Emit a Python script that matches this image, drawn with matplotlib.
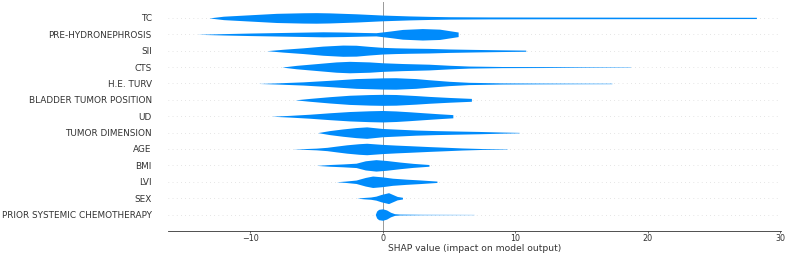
import numpy as np
import matplotlib.pyplot as plt

# feature names, top to bottom
features = ["TC", "PRE-HYDRONEPHROSIS", "SII", "CTS", "H.E. TURV",
            "BLADDER TUMOR POSITION", "UD", "TUMOR DIMENSION", "AGE",
            "BMI", "LVI", "SEX", "PRIOR SYSTEMIC CHEMOTHERAPY"]

# violin outlines: SHAP value and relative density
tc_x = [-13.1, -12, -10, -8, -6, -5, -4, -2, 0, 2, 3.5, 5, 8, 12, 20, 28.2, 28.2]
tc_d = [0, 0.3, 0.55, 0.8, 0.9, 0.92, 0.88, 0.72, 0.5, 0.35, 0.27, 0.21, 0.17, 0.15, 0.13, 0.11, 0]
pre_x = [-14.0, -12, -10, -8, -6, -4.5, -3, -1.5, -0.5, 0.5, 1.5, 3, 4.3, 5.0, 5.7, 5.7]
pre_d = [0, 0.12, 0.22, 0.3, 0.38, 0.44, 0.4, 0.32, 0.28, 0.55, 0.85, 1.0, 0.9, 0.65, 0.4, 0]
sii_x = [-8.75, -7.5, -6, -4.5, -3, -2, -1, 0, 1, 2, 3.5, 5, 7, 9, 10.8, 10.8]
sii_d = [0, 0.25, 0.5, 0.8, 0.98, 0.95, 0.75, 0.58, 0.5, 0.45, 0.4, 0.3, 0.22, 0.15, 0.1, 0]
cts_x = [-7.6, -6.5, -5, -3.5, -2.5, -1, 0, 1.5, 3.5, 5, 6.5, 9, 12, 15, 18.7, 18.7]
cts_d = [0, 0.3, 0.6, 0.9, 1.0, 0.9, 0.75, 0.62, 0.5, 0.32, 0.18, 0.1, 0.08, 0.05, 0.03, 0]
he_x = [-9.4, -8, -6, -4, -2, 0, 1, 2.5, 3.5, 5, 6.5, 9, 12, 15, 17.3, 17.3]
he_d = [0, 0.1, 0.28, 0.55, 0.85, 0.98, 1.0, 0.85, 0.65, 0.38, 0.2, 0.1, 0.07, 0.05, 0.04, 0]
btp_x = [-6.6, -5.5, -4, -2.5, -1, 0, 1, 2.5, 3.5, 5, 6.7, 6.7]
btp_d = [0, 0.25, 0.55, 0.8, 0.92, 0.96, 0.93, 0.75, 0.6, 0.42, 0.25, 0]
ud_x = [-8.4, -7, -5.5, -4, -2.5, -1, 0, 1, 2, 3, 4.3, 5.3, 5.3]
ud_d = [0, 0.15, 0.35, 0.6, 0.82, 0.95, 1.0, 0.92, 0.78, 0.62, 0.42, 0.28, 0]
td_x = [-4.9, -4, -3, -2, -1.2, 0, 1.3, 2.5, 4, 5.5, 7.3, 9, 10.3, 10.3]
td_d = [0, 0.35, 0.64, 0.88, 1.0, 0.72, 0.58, 0.45, 0.35, 0.28, 0.2, 0.1, 0.04, 0]
age_x = [-6.8, -6, -5, -4.2, -3.5, -2.7, -1.8, -1.2, 0, 1, 2, 3.5, 4.8, 6, 7.5, 9.4, 9.4]
age_d = [0, 0.06, 0.15, 0.29, 0.5, 0.73, 0.92, 1.0, 0.8, 0.68, 0.58, 0.42, 0.3, 0.18, 0.08, 0.03, 0]
bmi_x = [-5.0, -4, -3, -2, -1.3, -0.5, 0.3, 1.3, 2.3, 3.5, 3.5]
bmi_d = [0, 0.15, 0.25, 0.38, 0.8, 1.0, 0.85, 0.58, 0.35, 0.15, 0]
lvi_x = [-3.5, -2.8, -2, -1.3, -0.75, 0, 0.75, 1.8, 2.8, 4.1, 4.1]
lvi_d = [0, 0.12, 0.3, 0.75, 1.0, 0.85, 0.62, 0.45, 0.32, 0.12, 0]
sex_x = [-1.95, -1.4, -0.9, -0.5, -0.1, 0.45, 0.8, 1.1, 1.5, 1.5]
sex_d = [0, 0.12, 0.2, 0.35, 0.65, 0.95, 0.6, 0.3, 0.15, 0]
psc_x = [-0.55, -0.45, -0.3, 0, 0.3, 0.6, 0.9, 1.3, 3, 5, 6.9, 6.9]
psc_d = [0, 0.6, 0.9, 1.0, 0.8, 0.4, 0.15, 0.08, 0.04, 0.03, 0.02, 0]

profiles = [(tc_x, tc_d), (pre_x, pre_d), (sii_x, sii_d), (cts_x, cts_d),
            (he_x, he_d), (btp_x, btp_d), (ud_x, ud_d), (td_x, td_d),
            (age_x, age_d), (bmi_x, bmi_d), (lvi_x, lvi_d), (sex_x, sex_d),
            (psc_x, psc_d)]

blue = "#008bfb"
axis_color = "#333333"
n = len(features)

fig = plt.figure(figsize=(7.88, 2.56), dpi=100)
ax = fig.add_axes([0.213, 0.098, 0.778, 0.896])

for i, (xs, ds) in enumerate(profiles):
    y = n - 1 - i
    ax.axhline(y, color="#cccccc", lw=0.5, dashes=(1, 5), zorder=-1)
    xs = np.array(xs)
    ds = np.array(ds) * 0.35
    ax.fill_between(xs, y - ds, y + ds, color=blue, lw=0)

ax.axvline(0, color="#999999", lw=0.7, zorder=-1)

ax.set_xlim(-16.2, 30.05)
ax.set_ylim(-1, n)
ax.set_yticks(range(n))
ax.set_yticklabels(features[::-1], fontsize=6.4)
ax.set_xticks([-10, 0, 10, 20, 30])
ax.set_xticklabels(["\u221210", "0", "10", "20", "30"])
ax.tick_params(color=axis_color, labelcolor=axis_color)
ax.tick_params('x', labelsize=5.8, length=1.75, width=0.5, pad=0.8)
ax.tick_params('y', length=0, pad=11.5)
for s in ['right', 'top', 'left']:
    ax.spines[s].set_visible(False)
ax.spines['bottom'].set_color(axis_color)
ax.spines['bottom'].set_linewidth(0.6)
ax.set_xlabel("SHAP value (impact on model output)", fontsize=6.6,
              color=axis_color, labelpad=0.5)

fig.savefig("out.png", dpi=100)
